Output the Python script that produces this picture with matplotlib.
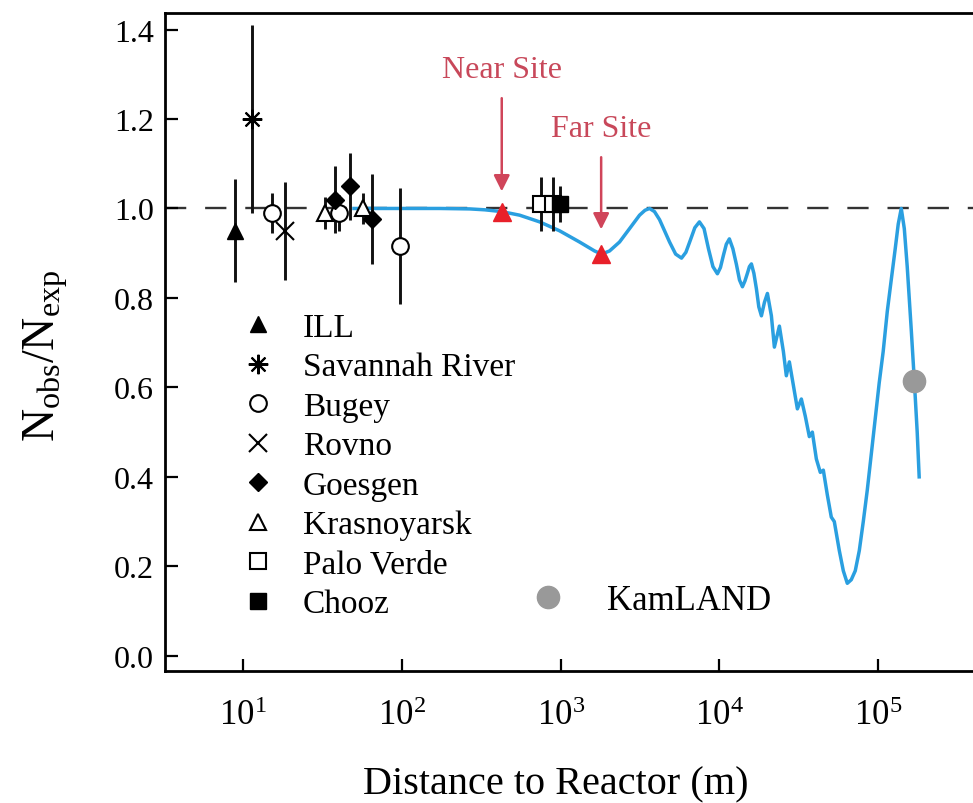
import matplotlib
matplotlib.use("Agg")
import matplotlib.pyplot as plt
from matplotlib.ticker import LogLocator, LogFormatterMathtext, FixedLocator

plt.rcParams['font.family'] = ['Liberation Serif', 'DejaVu Serif']
plt.rcParams['mathtext.fontset'] = 'custom'
plt.rcParams['mathtext.rm'] = 'Liberation Serif'
plt.rcParams['mathtext.it'] = 'Liberation Serif:italic'

# ---- data ----
# short-baseline experiments: distance (m), ratio, error
ill_L = [8.9]
ill_r = [0.95]
ill_e = [0.115]

sav_L = [11.4]
sav_r = [1.20]
sav_e = [0.21]

bugey_L = [15.2, 40, 97]
bugey_r = [0.99, 0.99, 0.916]
bugey_e = [0.045, 0.04, 0.13]

rovno_L = [18.4]
rovno_r = [0.95]
rovno_e = [0.11]

goesgen_L = [37.9, 47, 64.8]
goesgen_r = [1.02, 1.05, 0.976]
goesgen_e = [0.075, 0.075, 0.1]

kras_L = [33, 57]
kras_r = [0.99, 1.0]
kras_e = [0.035, 0.035]

palo_L = [750, 890]
palo_r = [1.01, 1.01]
palo_e = [0.06, 0.06]

chooz_L = [990]
chooz_r = [1.01]
chooz_e = [0.04]

# proposed near / far detectors
site_L = [426, 1800]
site_r = [0.993, 0.898]

# KamLAND
kam_L = [168400]
kam_r = [0.614]

# oscillation expectation curve
curve_L = [50, 97, 173, 268, 333, 426, 552, 738, 986, 1316, 1636, 1812, 2033,
           2350, 2718, 3141, 3400, 3631, 3900, 4198, 4853, 5300, 5771, 6150,
           6573, 7000, 7482, 8000, 8531, 9100, 9711, 10150, 10590, 11050,
           11550, 12150, 12790, 13380, 13960, 14480, 15000, 15450, 15900,
           16480, 17100, 17700, 18380, 19200, 20050, 21240, 22180, 23850,
           25280, 26380, 27560, 29200, 30960, 32800, 34750, 36820, 38460,
           40760, 43170, 45100, 47780, 50620, 52880, 56870, 60260, 63840,
           67630, 71660, 75970, 80490, 85270, 90340, 95710, 101400, 107400,
           114000, 120700, 127900, 133600, 139600, 145900, 152200, 161300,
           168400, 175900, 181000]
curve_r = [1.0, 1.0, 1.0, 0.999, 0.997, 0.993, 0.985, 0.97, 0.95, 0.925,
           0.905, 0.898, 0.905, 0.925, 0.955, 0.985, 0.996, 1.0, 0.993, 0.975,
           0.925, 0.898, 0.889, 0.902, 0.93, 0.957, 0.97, 0.955, 0.91, 0.87,
           0.854, 0.868, 0.895, 0.92, 0.932, 0.91, 0.875, 0.84, 0.825, 0.838,
           0.855, 0.87, 0.876, 0.855, 0.82, 0.78, 0.76, 0.79, 0.81, 0.76, 0.69,
           0.737, 0.68, 0.626, 0.657, 0.605, 0.552, 0.574, 0.535, 0.49, 0.50,
           0.44, 0.41, 0.415, 0.36, 0.31, 0.30, 0.235, 0.19, 0.162, 0.17, 0.19,
           0.235, 0.30, 0.37, 0.45, 0.53, 0.61, 0.68, 0.77, 0.84, 0.91, 0.965,
           1.0, 0.955, 0.87, 0.73, 0.62, 0.50, 0.40]

fig = plt.figure(figsize=(9.73, 8.04), dpi=100)
ax = fig.add_axes([0.1696, 0.1642, 0.8304, 0.8184])

ax.axhline(1.0, color='#333333', lw=1.7, linestyle=(0, (9, 8)), zorder=1)
ax.plot(curve_L, curve_r, color='#2a9fe0', lw=2.5, zorder=2)

ebar = dict(fmt='none', ecolor='#111111', elinewidth=2.1, capsize=0, zorder=3)
ax.errorbar(ill_L, ill_r, yerr=ill_e, **ebar)
ax.errorbar(sav_L, sav_r, yerr=sav_e, **ebar)
ax.errorbar(bugey_L, bugey_r, yerr=bugey_e, **ebar)
ax.errorbar(rovno_L, rovno_r, yerr=rovno_e, **ebar)
ax.errorbar(goesgen_L, goesgen_r, yerr=goesgen_e, **ebar)
ax.errorbar(kras_L, kras_r, yerr=kras_e, **ebar)
ax.errorbar(palo_L, palo_r, yerr=palo_e, **ebar)
ax.errorbar(chooz_L, chooz_r, yerr=chooz_e, **ebar)

h_ill, = ax.plot(ill_L, ill_r, '^', color='black', ms=11, ls='none', zorder=4, label='ILL')
h_sav, = ax.plot(sav_L, sav_r, marker=(8, 2, 0), color='black', ms=14, mew=1.5, ls='none', zorder=4, label='Savannah River')
h_bug, = ax.plot(bugey_L, bugey_r, 'o', mfc='white', mec='black', ms=12, mew=1.5, ls='none', zorder=4, label='Bugey')
h_rov, = ax.plot(rovno_L, rovno_r, 'x', color='black', ms=13, mew=1.5, ls='none', zorder=4, label='Rovno')
h_goe, = ax.plot(goesgen_L, goesgen_r, 'D', color='black', ms=9, ls='none', zorder=4, label='Goesgen')
h_kra, = ax.plot(kras_L, kras_r, '^', mfc='white', mec='black', ms=11, mew=1.5, ls='none', zorder=4, label='Krasnoyarsk')
h_pal, = ax.plot(palo_L, palo_r, 's', mfc='white', mec='black', ms=11, mew=1.5, ls='none', zorder=4, label='Palo Verde')
h_cho, = ax.plot(chooz_L, chooz_r, 's', color='black', ms=11, ls='none', zorder=4, label='Chooz')

ax.plot(site_L, site_r, '^', color='#e8202a', ms=13, ls='none', zorder=5)
h_kam, = ax.plot(kam_L, kam_r, 'o', color='#999999', ms=16, ls='none', zorder=5, label='KamLAND')

arrow = dict(arrowstyle='-|>', color='#d0455a', lw=1.8, mutation_scale=24, shrinkA=8)
ax.annotate('Near Site', xy=(site_L[0], 1.032), xytext=(site_L[0], 1.31),
            ha='center', va='center', fontsize=23, color='#c8485a', arrowprops=arrow)
ax.annotate('Far Site', xy=(site_L[1], 0.947), xytext=(site_L[1], 1.178),
            ha='center', va='center', fontsize=23, color='#c8485a', arrowprops=arrow)

leg = ax.legend(handles=[h_ill, h_sav, h_bug, h_rov, h_goe, h_kra, h_pal, h_cho],
                loc='upper left', bbox_to_anchor=(0.096, 0.545), frameon=False,
                fontsize=24, handlelength=0.9, handletextpad=0.9,
                labelspacing=0.27, borderpad=0, borderaxespad=0)
ax.add_artist(leg)
ax.legend(handles=[h_kam], loc='center left', bbox_to_anchor=(0.452, 0.107),
          frameon=False, fontsize=25, handlelength=1.0, handletextpad=1.2,
          borderpad=0, borderaxespad=0)

ax.set_xscale('log')
ax.set_xlim(3.23, 3.95e5)
ax.set_ylim(-0.034, 1.437)
ax.xaxis.set_major_locator(LogLocator(base=10, numticks=10))
ax.xaxis.set_major_formatter(LogFormatterMathtext())
ax.xaxis.set_minor_locator(FixedLocator([]))
ax.set_yticks([0.0, 0.2, 0.4, 0.6, 0.8, 1.0, 1.2, 1.4])
ax.set_yticklabels(['0.0', '0.2', '0.4', '0.6', '0.8', '1.0', '1.2', '1.4'])

ax.tick_params(axis='both', direction='in', length=9, width=1.6)
ax.tick_params(axis='x', pad=20, labelsize=25)
ax.tick_params(axis='y', pad=8, labelsize=23)
for side in ['left', 'bottom', 'top']:
    ax.spines[side].set_linewidth(2.0)
ax.spines['right'].set_visible(False)

ax.set_xlabel('Distance to Reactor (m)', fontsize=29)
ax.xaxis.set_label_coords(0.483, -0.143)
ax.set_ylabel(r'N$_{\mathrm{obs}}$/N$_{\mathrm{exp}}$', fontsize=33)
ax.yaxis.set_label_coords(-0.118, 0.48)

fig.savefig('out.png', dpi=100)
